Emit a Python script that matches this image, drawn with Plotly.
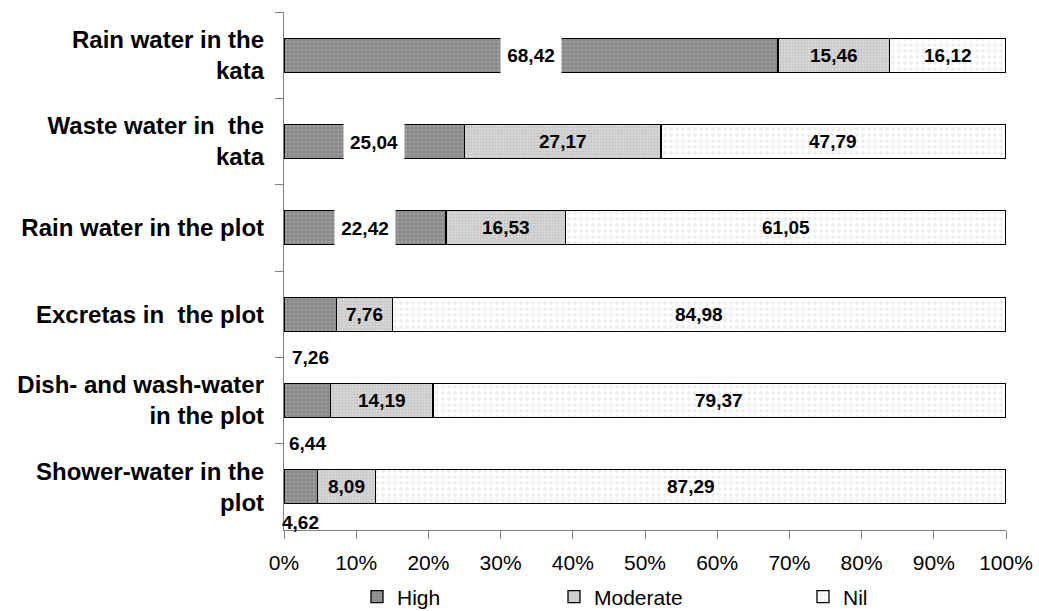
import plotly.graph_objects as go

categories = [
    "Rain water in the<br>kata",
    "Waste water in  the<br>kata",
    "Rain water in the plot",
    "Excretas in  the plot",
    "Dish- and wash-water<br>in the plot",
    "Shower-water in the<br>plot",
]
high = [68.42, 25.04, 22.42, 7.26, 6.44, 4.62]
moderate = [15.46, 27.17, 16.53, 7.76, 14.19, 8.09]
nil = [16.12, 47.79, 61.05, 84.98, 79.37, 87.29]
x_ticks = [0, 10, 20, 30, 40, 50, 60, 70, 80, 90, 100]
x_tick_labels = ["0%", "10%", "20%", "30%", "40%", "50%", "60%", "70%", "80%", "90%", "100%"]

FONT = "Liberation Sans, Arial, sans-serif"
W, H = 1039, 611


def fmt(v):
    return f"{v:.2f}".replace(".", ",")


fig = go.Figure()
series = [
    ("High", high, "#8a8a8a", "#b4b4b4", 4, "legend", 357),
    ("Moderate", moderate, "#d6d6d6", "#ababab", 3, "legend2", 554),
    ("Nil", nil, "#ffffff", "#dedede", 6, "legend3", 803),
]
legend_style = dict(
    orientation="h", xref="container", yref="container",
    xanchor="left", yanchor="middle", y=(H - 597) / H,
    font=dict(family=FONT, size=21, color="#000000"),
    bgcolor="rgba(0,0,0,0)",
)
legends = {}
for name, vals, bg, fg, sz, leg, lx in series:
    fig.add_trace(go.Bar(
        y=categories, x=vals, name=name, orientation="h", legend=leg,
        marker=dict(
            color=bg,
            line=dict(color="#000000", width=1.3),
            pattern=dict(shape=".", bgcolor=bg, fgcolor=fg, size=sz, solidity=0.35, fillmode="overlay"),
        ),
        hoverinfo="x+name",
    ))
    legends[leg] = dict(legend_style, x=lx / W)

annotations = []
lab_font = dict(family=FONT, size=19, color="#000000", weight="bold")
for i, cat in enumerate(categories):
    h, m, n = high[i], moderate[i], nil[i]
    if h >= 10:
        annotations.append(dict(
            x=h / 2, y=cat, xref="x", yref="y", text=fmt(h), showarrow=False,
            font=lab_font, bgcolor="#ffffff", width=58, height=34,
        ))
    else:
        annotations.append(dict(
            x=h / 2, y=i + 0.5, xref="x", yref="y", text=fmt(h), showarrow=False,
            font=lab_font, yshift=8 if i == len(categories) - 1 else 0,
        ))
    annotations.append(dict(
        x=h + m / 2, y=cat, xref="x", yref="y", text=fmt(m), showarrow=False, font=lab_font,
    ))
    annotations.append(dict(
        x=h + m + n / 2, y=cat, xref="x", yref="y", text=fmt(n), showarrow=False, font=lab_font,
    ))

fig.update_layout(
    barmode="stack",
    bargap=0.606,
    width=W, height=H,
    margin=dict(l=284, r=33, t=12, b=81),
    paper_bgcolor="#ffffff", plot_bgcolor="#ffffff",
    font=dict(family=FONT, size=21, color="#000000"),
    annotations=annotations,
    showlegend=True,
    **legends,
    xaxis=dict(
        range=[0, 100], tickvals=x_ticks, ticktext=x_tick_labels,
        showgrid=False, zeroline=False, showline=True, linecolor="#808080", linewidth=1.3,
        ticks="outside", ticklen=8, tickcolor="#808080", tickwidth=1.3,
        tickfont=dict(family=FONT, size=21, color="#000000"),
        ticklabelstandoff=6,
        fixedrange=True, automargin=False,
    ),
    yaxis=dict(
        categoryorder="array", categoryarray=categories,
        range=[len(categories) - 0.5, -0.5], autorange=False,
        showgrid=False, zeroline=False, showline=True, linecolor="#808080", linewidth=1.3,
        ticks="outside", ticklen=8, tickcolor="#808080", tickwidth=1.3, tickson="boundaries",
        tickfont=dict(family=FONT, size=24, color="#000000", weight="bold"),
        ticklabelstandoff=14,
        fixedrange=True, automargin=False,
    ),
)

fig.write_html(
    "out.html",
    config={"displayModeBar": False},
    post_script="document.body.style.margin='0px'; document.body.style.overflow='hidden';",
)
